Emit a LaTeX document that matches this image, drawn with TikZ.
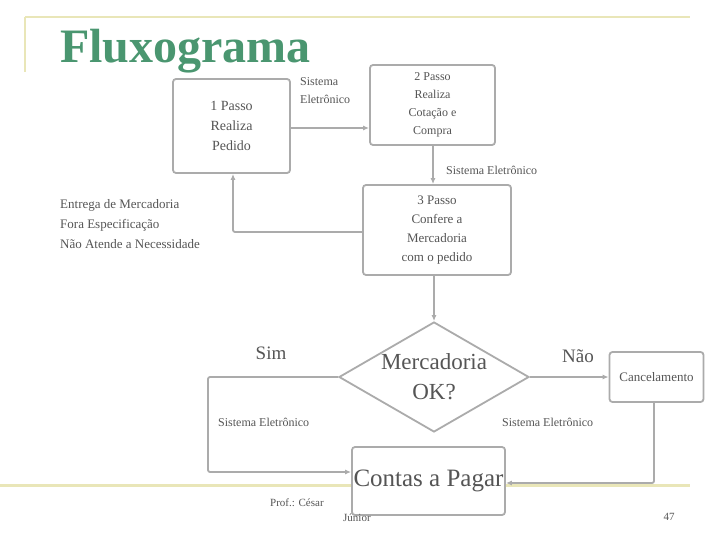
\documentclass[tikz,border=0pt]{standalone}
\usepackage{fontspec}
\setmainfont{Liberation Serif}
\usetikzlibrary{shapes.geometric,arrows.meta}
\definecolor{ttl}{HTML}{4A9670}
\definecolor{deco}{HTML}{E9E6B8}
\definecolor{edge}{HTML}{ABABAB}
\definecolor{txt}{HTML}{555555}
\begin{document}
\begin{tikzpicture}[x=1pt,y=-1pt,
  box/.style={draw=edge,line width=1.8pt,rounded corners=3pt,fill=white,text=txt,align=center,inner sep=0pt},
  conn/.style={draw=edge,line width=1.8pt,rounded corners=2pt},
  arr/.style={conn,-{Latex[length=6pt,width=5pt]}},
  lbl/.style={text=txt,font=\fontsize{12}{18}\selectfont,align=left,inner sep=0pt}]
\useasboundingbox (0,0) rectangle (720,540);
% decoration
\draw[deco,line width=2.5pt] (25,17) -- (690,17);
\draw[deco,line width=2.5pt] (25,17) -- (25,72);
\draw[deco,line width=3pt] (0,485) -- (690,485);
\node[anchor=base west,inner sep=0pt,text=ttl,font=\fontsize{48}{48}\selectfont\bfseries] (title) at (60,63) {Fluxograma};
% nodes
\node[box,minimum width=117pt,minimum height=94pt,font=\fontsize{14}{20}\selectfont] (p1) at (231.5,126) {1 Passo\\Realiza\\Pedido};
\node[box,minimum width=125pt,minimum height=80pt,font=\fontsize{12}{18}\selectfont] (p2) at (432.5,105) {2 Passo\\Realiza\\Cotação e\\Compra};
\node[box,minimum width=148pt,minimum height=90pt,font=\fontsize{13}{19}\selectfont] (p3) at (437,230) {3 Passo\\Confere a\\Mercadoria\\com o pedido};
\node[diamond,draw=edge,line width=1.8pt,fill=white,minimum width=190pt,minimum height=110pt,inner sep=0pt,
  label={[text=txt,align=center,inner sep=0pt,font=\fontsize{23}{30}\selectfont]center:Mercadoria\\OK?}] (d) at (434,377) {};
\node[box,minimum width=94pt,minimum height=50pt,font=\fontsize{13}{15}\selectfont] (c) at (656.5,377) {Cancelamento};
\node[box,minimum width=153pt,minimum height=68pt,font=\fontsize{25}{28}\selectfont] (cp) at (428.5,481) {Contas a Pagar};
% connectors
\coordinate (j1) at (233,232);
\coordinate (j2) at (208,377);
\coordinate (j3) at (208,472);
\coordinate (j4) at (654,483);
\draw[arr] (p1.east |- 0,128) -- (p2.west |- 0,128);
\draw[arr] (p2.south -| 433,0) -- (p3.north -| 433,0);
\draw[arr] (p3.west |- j1) -- (j1) -- (p1.south -| j1);
\draw[arr] (p3.south -| d.north) -- (d.north);
\draw[arr] (d.west) -- (j2) -- (j3) -- (cp.west |- j3);
\draw[arr] (d.east) -- (c.west |- d.east);
\draw[arr] (c.south -| j4) -- (j4) -- (cp.east |- j4);
% labels
\node[lbl,anchor=west] (l1) at (300,91) {Sistema\\Eletrônico};
\node[lbl,anchor=west] (l2) at (446,170) {Sistema Eletrônico};
\node[lbl,anchor=west,font=\fontsize{13}{20}\selectfont] (l3) at (60,224) {Entrega de Mercadoria\\Fora Especificação\\Não Atende a Necessidade};
\node[lbl,anchor=west] (l4) at (218,422) {Sistema Eletrônico};
\node[lbl,anchor=west] (l5) at (502,422) {Sistema Eletrônico};
\node[text=txt,font=\fontsize{19}{19}\selectfont,inner sep=0pt] (sim) at (271,353) {Sim};
\node[text=txt,font=\fontsize{19}{19}\selectfont,inner sep=0pt] (nao) at (578,356) {Não};
% footer
\node[text=txt,font=\fontsize{11}{13}\selectfont,inner sep=0pt,anchor=west] (f1) at (270,503) {Prof.: César};
\node[text=txt,font=\fontsize{11}{13}\selectfont,inner sep=0pt,anchor=west] (f2) at (343,518) {Júnior};
\node[text=txt,font=\fontsize{11}{13}\selectfont,inner sep=0pt] (pg) at (669,517) {47};
\end{tikzpicture}
\end{document}
